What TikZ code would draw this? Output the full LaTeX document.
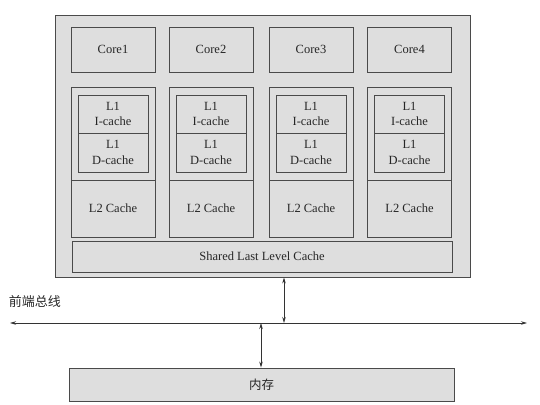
\documentclass[tikz,border=0pt]{standalone}
\usepackage{fontspec}
\setmainfont{Liberation Serif}
\newfontfamily\cjk{Noto Sans CJK SC}
\usetikzlibrary{arrows.meta}
\definecolor{boxfill}{HTML}{DEDEDE}
\definecolor{boxline}{HTML}{4A4A4A}
\tikzset{
  box/.style={draw=boxline, fill=boxfill, line width=0.9pt, inner sep=0pt, align=center,
    font=\fontsize{12.5}{15.5}\selectfont, text=black!85},
  conn/.style={draw=black!80, line width=0.8pt, {Stealth[length=6pt,width=3.5pt]}-{Stealth[length=6pt,width=3.5pt]}},
}
\begin{document}
\begin{tikzpicture}[x=1pt,y=-1pt]
\useasboundingbox (0,0) rectangle (540,404);
% outer
\node[box, minimum width=415pt, minimum height=262pt] (outer) at (262.5,146) {};
% cores
\foreach \i/\x in {1/113,2/211,3/311,4/409.5}{
  \node[box, minimum width=84pt, minimum height=45pt] (core\i) at (\x,49.5) {Core\i};
  \node[box, minimum width=84pt, minimum height=93pt] (col\i) at (\x,133.5) {};
  \node[box, minimum width=70pt, minimum height=38pt] (li\i) at (\x,114) {L1\\I-cache};
  \node[box, minimum width=70pt, minimum height=39pt] (ld\i) at (\x,152.5) {L1\\D-cache};
  \node[box, minimum width=84pt, minimum height=57pt] (l2\i) at (\x,208.5) {L2 Cache};
}
\node[box, minimum width=380pt, minimum height=31pt] (shared) at (262,256.5) {Shared Last Level Cache};
\node[box, minimum width=385pt, minimum height=33pt] (mem) at (261.5,384.5) {\cjk 内存};
% bus
\coordinate (busL) at (10,323);
\coordinate (busR) at (527,323);
\draw[conn] (busL) -- (busR);
\node[font=\fontsize{13}{15}\selectfont\cjk, text=black!85] (buslabel) at (35,302) {前端总线};
\coordinate (b1) at (284,323);
\coordinate (b2) at (261,323);
\draw[conn] (outer.south -| b1) -- (b1);
\draw[conn] (b2) -- (mem.north -| b2);
\end{tikzpicture}
\end{document}
